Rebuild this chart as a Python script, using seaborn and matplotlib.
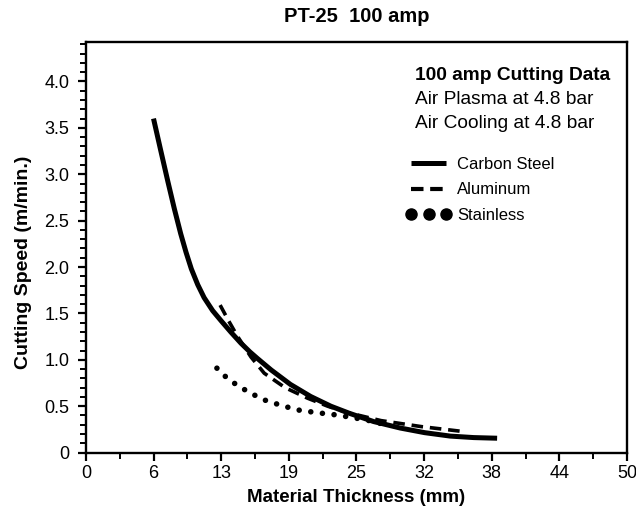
import matplotlib
matplotlib.use("Agg")
import matplotlib.pyplot as plt
import seaborn as sns
import pandas as pd
from matplotlib.ticker import FixedLocator, MultipleLocator
from matplotlib.lines import Line2D

sns.set_style("ticks")
plt.rcParams['font.family'] = ['Liberation Sans', 'DejaVu Sans']
plt.rcParams.update({"text.color": "black", "axes.labelcolor": "black",
                     "xtick.color": "black", "ytick.color": "black"})

# ---- data ----
carbon_x = [6.35, 7.0, 7.7, 8.3, 8.9, 9.4, 9.9, 10.5, 11.1, 11.9, 12.7, 13.6, 14.55, 15.4, 16.1,
            17.4, 19.2, 21.1, 23.0, 24.7, 27.0, 29.5, 31.8, 34.2, 36.4, 38.6]
carbon_y = [3.60, 3.27, 2.92, 2.63, 2.36, 2.16, 1.98, 1.81, 1.67, 1.53, 1.42, 1.30, 1.18, 1.085, 1.015,
            0.89, 0.735, 0.605, 0.50, 0.425, 0.335, 0.265, 0.215, 0.178, 0.162, 0.155]

alum_x = [12.6, 13.4, 14.25, 15.5, 16.74, 18.7, 20.8, 22.7, 24.6, 27.7, 31.5, 35.2]
alum_y = [1.59, 1.42, 1.25, 1.03, 0.856, 0.70, 0.587, 0.50, 0.43, 0.345, 0.28, 0.23]

stain_x = [12.3, 13.1, 13.93, 15.3, 16.74, 18.3, 19.87, 21.7, 23.6, 26.3, 28.5]
stain_y = [0.91, 0.82, 0.748, 0.65, 0.568, 0.51, 0.46, 0.43, 0.405, 0.353, 0.29]

series_names = ["Carbon Steel", "Aluminum", "Stainless"]

x_tick_pos = [0, 6.35, 12.7, 19.05, 25.4, 31.75, 38.1, 44.45, 50.8]
x_tick_labels = ["0", "6", "13", "19", "25", "32", "38", "44", "50"]
y_tick_pos = [0, 0.5, 1.0, 1.5, 2.0, 2.5, 3.0, 3.5, 4.0]
y_tick_labels = ["0", "0.5", "1.0", "1.5", "2.0", "2.5", "3.0", "3.5", "4.0"]

fig = plt.figure(figsize=(6.36, 5.12), dpi=100)
ax = fig.add_axes([0.135, 0.116, 0.851, 0.801])

df_c = pd.DataFrame({"x": carbon_x, "y": carbon_y})
df_a = pd.DataFrame({"x": alum_x, "y": alum_y})
df_s = pd.DataFrame({"x": stain_x, "y": stain_y})

sns.lineplot(data=df_c, x="x", y="y", ax=ax, color="black", lw=3.6,
             estimator=None, legend=False)
sns.lineplot(data=df_a, x="x", y="y", ax=ax, color="black", lw=2.6,
             estimator=None, legend=False)
sns.lineplot(data=df_s, x="x", y="y", ax=ax, color="black", lw=4.0,
             estimator=None, legend=False)
lines = ax.get_lines()
lines[0].set_solid_capstyle("butt")
lines[0].set_solid_joinstyle("round")
lines[1].set_dashes([3.2, 1.9])
lines[2].set_dashes([0.01, 2.1])
lines[2].set_dash_capstyle("round")

ax.set_xlim(0, 50.8)
ax.set_ylim(0, 4.42)
ax.xaxis.set_major_locator(FixedLocator(x_tick_pos))
ax.set_xticklabels(x_tick_labels)
ax.xaxis.set_minor_locator(MultipleLocator(3.175))
ax.yaxis.set_major_locator(FixedLocator(y_tick_pos))
ax.set_yticklabels(y_tick_labels)
ax.yaxis.set_minor_locator(MultipleLocator(0.1))

ax.tick_params(axis="both", which="major", direction="out", length=6, width=1.6,
               labelsize=13, colors="black")
ax.tick_params(axis="y", which="major", pad=6)
ax.tick_params(axis="x", which="major", pad=3)
ax.tick_params(axis="both", which="minor", direction="out", length=4, width=1.4)
for s in ax.spines.values():
    s.set_visible(True)
    s.set_linewidth(1.7)
    s.set_color("black")

ax.set_xlabel("Material Thickness (mm)", fontsize=13.5, fontweight="bold", labelpad=5)
ax.set_ylabel("Cutting Speed (m/min.)", fontsize=14, fontweight="bold")
ax.yaxis.set_label_coords(-0.1, 0.465)
ax.set_title("PT-25  100 amp", fontsize=14.5, fontweight="bold", pad=15)

ax.text(0.608, 0.92, "100 amp Cutting Data", transform=ax.transAxes,
        fontsize=13.8, fontweight="bold", va="center", ha="left")
ax.text(0.608, 0.86, "Air Plasma at 4.8 bar", transform=ax.transAxes,
        fontsize=13.8, va="center", ha="left")
ax.text(0.608, 0.802, "Air Cooling at 4.8 bar", transform=ax.transAxes,
        fontsize=13.8, va="center", ha="left")

handles = [
    Line2D([], [], color="black", lw=3.6, solid_capstyle="butt"),
    Line2D([], [], color="black", lw=3.0, dashes=[3.0, 1.6]),
    Line2D([], [], color="black", ls="none", marker="o", markersize=8),
]
leg = ax.legend(handles=handles, labels=series_names, loc="upper left",
                bbox_to_anchor=(0.58, 0.737), frameon=False, numpoints=3,
                fontsize=12, handlelength=2.7, handletextpad=0.35,
                labelspacing=0.62, borderaxespad=0)

fig.savefig("out.png", dpi=100)
